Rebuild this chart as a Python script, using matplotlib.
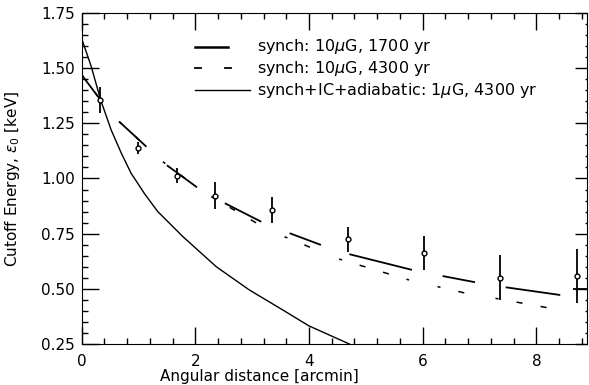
import numpy as np
import matplotlib
matplotlib.use("Agg")
import matplotlib.pyplot as plt
from matplotlib.ticker import MultipleLocator

# measured cutoff energies
obs_x = [0.32, 1.0, 1.67, 2.34, 3.35, 4.69, 6.03, 7.36, 8.71]
obs_y = [1.356, 1.137, 1.013, 0.922, 0.857, 0.725, 0.661, 0.551, 0.558]
obs_err = [0.058, 0.027, 0.034, 0.060, 0.060, 0.056, 0.077, 0.102, 0.122]

# synch 10uG, 1700 yr: one short model segment per annulus
s1700_x0 = [0.0, 0.66, 1.50, 2.52, 3.66, 4.71, 6.35, 7.46, 8.65]
s1700_x1 = [0.35, 1.14, 2.03, 3.16, 4.21, 5.81, 6.92, 8.42, 8.90]
s1700_y0 = [1.470, 1.258, 1.060, 0.888, 0.752, 0.657, 0.558, 0.507, 0.499]
s1700_y1 = [1.350, 1.144, 0.960, 0.804, 0.699, 0.586, 0.530, 0.472, 0.499]

# synch 10uG, 4300 yr
s4300_x0 = [0.0, 0.66, 1.43, 2.28, 3.57, 4.53, 6.26, 7.28]
s4300_x1 = [0.35, 1.14, 2.03, 3.13, 4.06, 5.76, 6.81, 8.42]
s4300_y0 = [1.470, 1.258, 1.076, 0.918, 0.736, 0.635, 0.510, 0.457]
s4300_y1 = [1.350, 1.144, 0.960, 0.790, 0.684, 0.540, 0.477, 0.404]

# synch+IC+adiabatic, 1uG, 4300 yr
adi_x = [0.0, 0.17, 0.335, 0.52, 0.70, 0.87, 1.11, 1.34, 1.78, 2.37, 2.95, 3.54, 4.0, 4.71]
adi_y = [1.635, 1.507, 1.356, 1.22, 1.114, 1.024, 0.93, 0.85, 0.737, 0.600, 0.495, 0.404, 0.332, 0.25]

legend_labels = ["synch: 10$\\mu$G, 1700 yr",
                 "synch: 10$\\mu$G, 4300 yr",
                 "synch+IC+adiabatic: 1$\\mu$G, 4300 yr"]

plt.rcParams['font.family'] = 'DejaVu Sans'
plt.rcParams['font.size'] = 11

fig = plt.figure(figsize=(5.89, 3.85), dpi=100)
ax = fig.add_axes([81.6 / 589, 1 - 344 / 385, (587.0 - 81.6) / 589, (344 - 13) / 385])

for x0, x1, y0, y1 in zip(s1700_x0, s1700_x1, s1700_y0, s1700_y1):
    ax.plot([x0, x1], [y0, y1], color='black', lw=1.3, solid_capstyle='butt')
for x0, x1, y0, y1 in zip(s4300_x0, s4300_x1, s4300_y0, s4300_y1):
    ax.plot([x0, x1], [y0, y1], color='black', lw=1.1, linestyle=(2, (4, 12)))
ax.plot(adi_x, adi_y, color='black', lw=1.0)

ax.errorbar(obs_x, obs_y, yerr=obs_err, fmt='o', color='black', ms=3.5,
            mfc='white', mec='black', mew=1.0, elinewidth=1.3, capsize=0)

# legend drawn by hand
tr = ax.transAxes
ly = [0.898, 0.833, 0.766]
ax.plot([0.224, 0.289], [ly[0], ly[0]], color='black', lw=1.8, transform=tr)
ax.plot([0.224, 0.237], [ly[1], ly[1]], color='black', lw=1.3, transform=tr)
ax.plot([0.283, 0.296], [ly[1], ly[1]], color='black', lw=1.3, transform=tr)
ax.plot([0.224, 0.333], [ly[2], ly[2]], color='black', lw=1.0, transform=tr)
for y, lab in zip(ly, legend_labels):
    ax.text(0.348, y, lab, transform=tr, va='center', ha='left', fontsize=11.5)

ax.set_xlim(0, 8.89)
ax.set_ylim(0.25, 1.75)
ax.xaxis.set_major_locator(MultipleLocator(2))
ax.xaxis.set_minor_locator(MultipleLocator(0.4))
ax.yaxis.set_major_locator(MultipleLocator(0.25))
ax.yaxis.set_minor_locator(MultipleLocator(0.05))
ax.yaxis.set_major_formatter(plt.FormatStrFormatter('%.2f'))

ax.tick_params(which='major', direction='in', length=12.5, width=1.0,
               top=True, right=True)
ax.tick_params(which='minor', direction='in', length=4.5, width=1.0,
               top=True, right=True)
ax.tick_params(axis='x', pad=7)
ax.tick_params(axis='y', pad=5)

ax.set_xlabel("Angular distance [arcmin]")
ax.xaxis.set_label_coords(0.351, -0.075)
ax.set_ylabel("Cutoff Energy, $\\epsilon_0$ [keV]")
ax.yaxis.set_label_coords(-0.118, 0.5)

# right-hand ticks are shorter in the original
for t in ax.yaxis.get_major_ticks():
    t.tick2line.set_markersize(8.5)
for t in ax.yaxis.get_minor_ticks():
    t.tick2line.set_markersize(1.5)

fig.savefig("out.png", dpi=100)
